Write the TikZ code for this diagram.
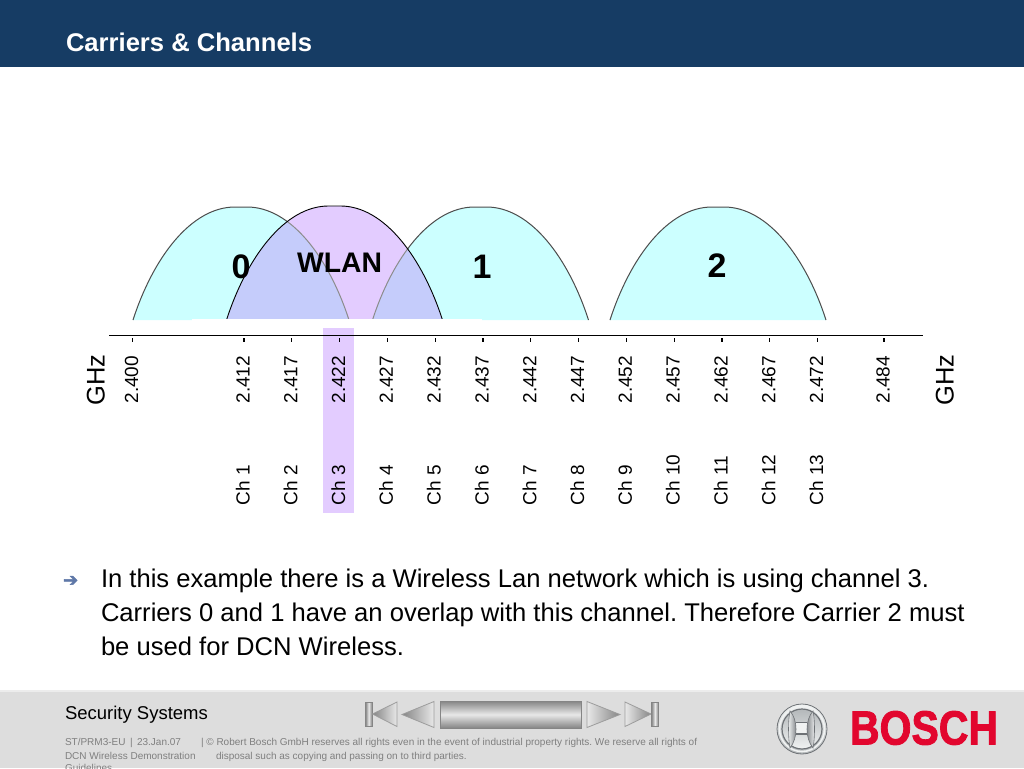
\documentclass[tikz,border=0pt]{standalone}
\usepackage{fontspec}
\setmainfont{Liberation Sans}
\newfontfamily\boschfont{Liberation Sans}[BoldFeatures={FakeBold=2}]
\newfontfamily\dejavu{DejaVu Sans}[FakeBold=2.5]
\usetikzlibrary{shadings}
\frenchspacing
\definecolor{headblue}{HTML}{163C64}
\definecolor{foot}{HTML}{DDDDDD}
\definecolor{carrier}{HTML}{CCFFFF}
\definecolor{lilac}{HTML}{E3CCFF}
\definecolor{overlap}{HTML}{C5CCFB}
\definecolor{smallgrey}{HTML}{7F7F7F}
\definecolor{boschred}{HTML}{E2062E}
\definecolor{bulletblue}{HTML}{5F78A8}
\definecolor{navdark}{HTML}{858585}
\definecolor{navlight}{HTML}{E8E8E8}
\definecolor{silverdark}{HTML}{6E7276}
\definecolor{silver}{HTML}{B4B8BA}
\definecolor{silverlight}{HTML}{F0F2F2}
\newcommand{\fsz}[1]{\fontsize{#1}{#1}\selectfont}
\newcommand{\humpline}[2]{(#1-108,320) .. controls (#1-88,258) and (#1-50,#2) .. (#1-6,#2) -- (#1+6,#2) .. controls (#1+50,#2) and (#1+88,258) .. (#1+108,320)}
\tikzset{
  lbl/.style={inner sep=0pt,outer sep=0pt},
  rotlbl/.style={lbl,rotate=90,anchor=base west},
  freq/.style={rotlbl,font=\fsz{19}},
  chan/.style={rotlbl,font=\fsz{19}},
  ghz/.style={rotlbl,font=\fsz{25.5}},
  big/.style={lbl,anchor=base,font=\fsz{34}\bfseries},
  para/.style={lbl,anchor=base west,font=\fsz{25.6}},
  tiny/.style={lbl,anchor=base west,font=\fsz{10},text=smallgrey},
  navv/.style={top color=navdark,bottom color=navdark,middle color=navlight,draw=navdark,line width=.8pt},
  navbar/.style={left color=navdark,right color=navdark,middle color=navlight,draw=navdark,line width=.8pt},
  navh/.style={left color=navdark,right color=navlight,draw=navdark!80,line width=.8pt},
  navhr/.style={left color=navlight,right color=navdark,draw=navdark!80,line width=.8pt},
  humpedge/.style={draw=black!70,line width=1pt}
}
\begin{document}
\begin{tikzpicture}[x=1pt,y=-1pt]
\useasboundingbox (0,0) rectangle (1024,768);
\fill[white] (0,0) rectangle (1024,768);
% header
\fill[headblue] (0,0) rectangle (1024,67);
\node[lbl,anchor=base west,font=\fsz{25.6}\bfseries,text=white] (title) at (66,52) {Carriers \& Channels};
% channel highlight
\fill[lilac] (323,328) rectangle (354,513);
% carriers
\foreach \c in {241,480.5,718}{
  \fill[carrier] \humpline{\c}{207} -- cycle;
  \draw[humpedge] \humpline{\c}{207};
}
\fill[lilac] \humpline{334.5}{206} -- cycle;
\begin{scope}
  \clip \humpline{334.5}{206} -- cycle;
  \foreach \c in {241,480.5}{
    \fill[overlap] \humpline{\c}{207} -- cycle;
    \draw[draw=black!45,line width=1pt] \humpline{\c}{207};
  }
\end{scope}
\draw[black,line width=.9pt] \humpline{334.5}{206};
\fill[white] (192,319) rectangle (482,323);
\fill[white] (125,320.5) rectangle (835,323);
\node[big] (c0) at (241,278) {0};
\node[lbl,anchor=base,font=\fsz{28.3}\bfseries] (wlan) at (339.5,272) {WLAN};
\node[big] (c1) at (482,278) {1};
\node[big] (c2) at (717,277) {2};
% axis
\coordinate (axl) at (109,335.5);
\coordinate (axr) at (923,335.5);
\draw[black,line width=.9pt] (axl) -- (axr);
\foreach \x/\f in {132.5/2.400,244/2.412,291.8/2.417,339.6/2.422,387.4/2.427,435.2/2.432,483/2.437,530.8/2.442,578.6/2.447,626.4/2.452,674.2/2.457,722/2.462,769.8/2.467,817.6/2.472,884/2.484}{
  \coordinate (tk) at (\x,338);
  \draw[black,line width=1.2pt] (tk) -- ++(0,4);
  \node[freq] at (\x+5.5,403.5) {\f};
}
\foreach \x/\n in {244/1,291.8/2,339.6/3,387.4/4,435.2/5,483/6,530.8/7,578.6/8,626.4/9,674.2/10,722/11,769.8/12,817.6/13}{
  \node[chan] at (\x+5.5,505.5) {Ch \n};
}
\node[ghz] (g1) at (104.5,405.5) {GHz};
\node[ghz] (g2) at (953.5,405.5) {GHz};
% body text
\node[lbl,anchor=base west,font=\dejavu\fsz{18},text=bulletblue] (bul) at (63,586) {➔};
\node[para] (p1) at (101,587) {In this example there is a Wireless Lan network which is using channel 3.};
\node[para] (p2) at (101,621) {Carriers 0 and 1 have an overlap with this channel. Therefore Carrier 2 must};
\node[para] (p3) at (101,655) {be used for DCN Wireless.};
% footer
\fill[foot] (0,691) rectangle (1024,768);
\fill[gray!15] (0,690) rectangle (1024,691.5);
\node[lbl,anchor=base west,font=\fsz{18.5}] (sec) at (65,719) {Security Systems};
\node[tiny] (f1) at (65,745) {ST/PRM3-EU \,|\, 23.Jan.07};
\node[tiny] (f2) at (65,759) {DCN Wireless Demonstration};
\node[tiny] (f3) at (65,771.5) {Guidelines};
\node[tiny] (f4) at (201,745) {| © Robert Bosch GmbH reserves all rights even in the event of industrial property rights. We reserve all rights of};
\node[tiny] (f5) at (216,759) {disposal such as copying and passing on to third parties.};
% navigation
\path[navv] (440,701) rectangle (581,728);
\path[navbar] (365.5,702) rectangle (372,726.5);
\path[navh] (372.5,714) -- (397,702) -- (397,726.5) -- cycle;
\path[navh] (402,714.5) -- (434,701.5) -- (434,727.5) -- cycle;
\path[navhr] (587,701.5) -- (620,714.5) -- (587,727.5) -- cycle;
\path[navhr] (625,702) -- (651,714) -- (625,726.5) -- cycle;
\path[navbar] (651.5,702) rectangle (658.5,726.5);
% logo
\shade[top color=silverlight,bottom color=silver] (802,729) circle (25);
\draw[silverdark,line width=.8pt] (802,729) circle (25);
\draw[silverlight,line width=1.6pt] (802,729) circle (22.5);
\shade[top color=silver,bottom color=silverlight] (802,729) circle (20);
\draw[silverdark,line width=1.2pt] (802,729) circle (20);
\fill[silverlight] (796,722) rectangle (807,735);
\draw[silverdark,line width=1.4pt] (796,722.5) -- (807,722.5) (796,734) -- (807,734);
\shade[left color=silverlight,right color=silverdark] (790,711) .. controls (798,720) and (798,738) .. (790,748) .. controls (788,738) and (788,720) .. (790,711) -- cycle;
\shade[left color=silverdark,right color=silverlight] (813,711) .. controls (805,720) and (805,738) .. (813,748) .. controls (815,738) and (815,720) .. (813,711) -- cycle;
\draw[silverdark,line width=.6pt] (790,711) .. controls (798,720) and (798,738) .. (790,748) .. controls (788,738) and (788,720) .. (790,711) -- cycle;
\draw[silverdark,line width=.6pt] (813,711) .. controls (805,720) and (805,738) .. (813,748) .. controls (815,738) and (815,720) .. (813,711) -- cycle;
\node[lbl,anchor=base west,text=boschred,font=\boschfont\fsz{41}\bfseries,yscale=1.17] (bosch) at (850,744.5) {BOSCH};
\end{tikzpicture}
\end{document}
